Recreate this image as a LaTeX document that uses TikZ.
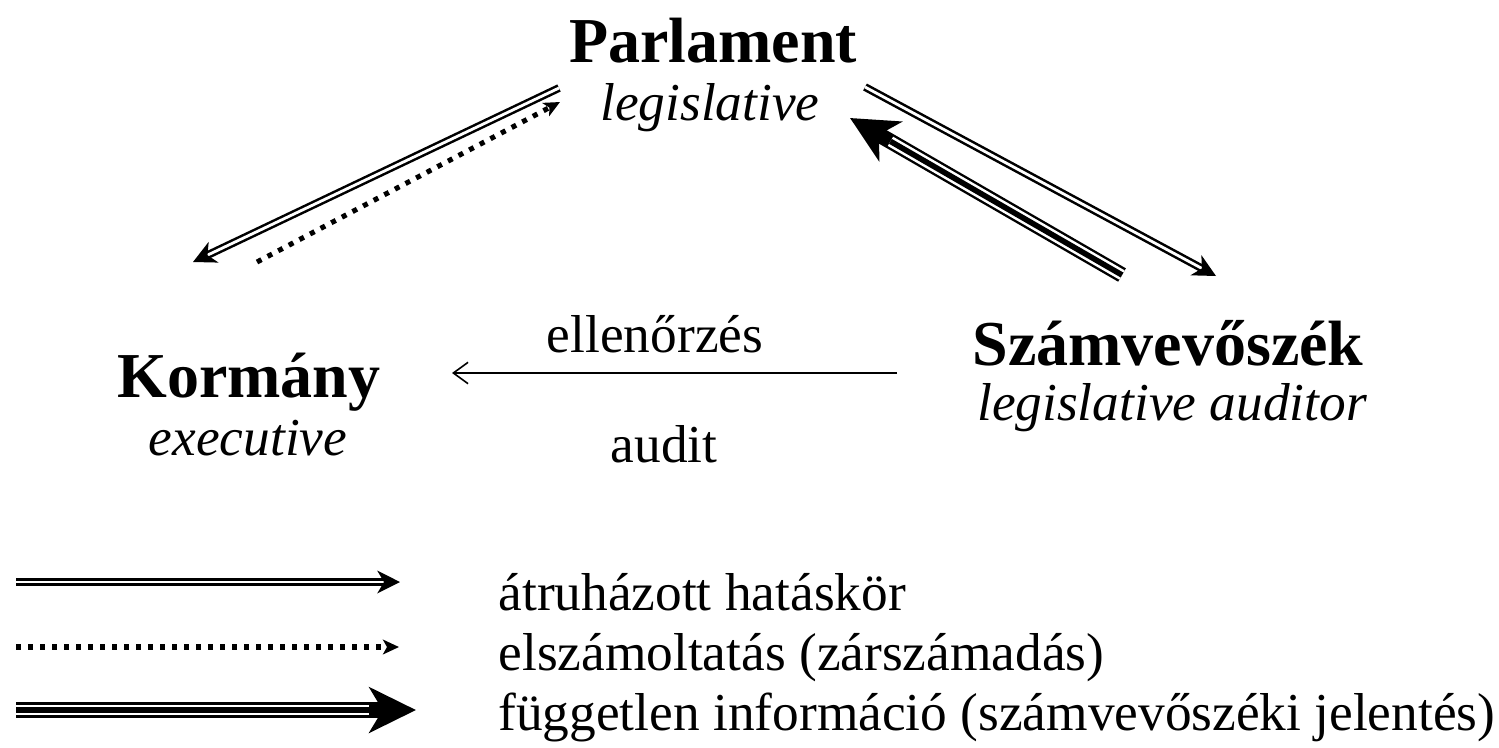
\documentclass[tikz,border=0pt]{standalone}
\usepackage{fontspec}
\setmainfont{Liberation Serif}
\usetikzlibrary{arrows.meta}

\tikzset{
	organ/.style={font=\fontsize{24}{28}\selectfont\bfseries, anchor=base, inner sep=0pt},
	role/.style={font=\fontsize{20}{24}\selectfont\itshape, anchor=base, inner sep=0pt},
	label/.style={font=\fontsize{20}{24}\selectfont, anchor=base, inner sep=0pt},
	legendtext/.style={font=\fontsize{20}{24}\selectfont, anchor=base west, inner sep=0pt},
	delegated/.style={line width=0.95pt, double, double distance=1.05pt,
		-{Stealth[length=8.5pt, width=8.5pt, inset=2.5pt]}},
	accounted/.style={line width=1.9pt, dash pattern=on 1.9pt off 2.6pt,
		-{Stealth[length=6pt, width=5.5pt, inset=1.5pt]}},
	informed/.style={line width=5.8pt, -{Stealth[length=17.5pt, width=17pt, inset=5pt]},
		postaction={draw, -, white, line width=4pt, shorten >=17.5pt},
		postaction={draw, -, black, line width=2.1pt, shorten >=17.5pt}},
	checkline/.style={line width=0.6pt, -{Straight Barb[length=5.5pt, width=8pt]}}
}

\begin{document}
\begin{tikzpicture}[x=0.375pt, y=-0.375pt]
	\useasboundingbox (0,0) rectangle (1499,747);
	
	% organs
	\node[organ] (parl) at (713,62) {Parlament};
	\node[role] (parlrole) at (710,120) {legislative};
	\node[organ] (korm) at (249,397) {Kormány};
	\node[role] (kormrole) at (248,455) {executive};
	\node[organ] (szam) at (1168,365) {Számvevőszék};
	\node[role] (szamrole) at (1172,420) {legislative auditor};
	
	% arrow ends
	\coordinate (pk-start) at (559,88); \coordinate (pk-end) at (193,262);
	\coordinate (kp-start) at (257,262); \coordinate (kp-end) at (560,102);
	\coordinate (ps-start) at (865,87); \coordinate (ps-end) at (1216,276);
	\coordinate (sp-start) at (1122,275); \coordinate (sp-end) at (850,118);
	\coordinate (sk-start) at (897,373); \coordinate (sk-end) at (452,373);
	
	\draw[delegated] (pk-start) -- (pk-end);
	\draw[accounted] (kp-start) -- (kp-end);
	\draw[delegated] (ps-start) -- (ps-end);
	\draw[informed] (sp-start) -- (sp-end);
	\draw[checkline] (sk-start) -- (sk-end);
	\node[label] (check) at (655,352) {ellenőrzés};
	\node[label] (audit) at (664,462) {audit};
	
	% legend
	\coordinate (l1) at (16,582); \coordinate (r1) at (400,582);
	\coordinate (l2) at (16,647); \coordinate (r2) at (399,647);
	\coordinate (l3) at (16,710); \coordinate (r3) at (416,710);
	\draw[delegated] (l1) -- (r1);
	\draw[accounted] (l2) -- (r2);
	\draw[informed] (l3) -- (r3);
	\node[legendtext] (leg1) at (498,610) {átruházott hatáskör};
	\node[legendtext] (leg2) at (498,670) {elszámoltatás (zárszámadás)};
	\node[legendtext] (leg3) at (498,730) {független információ (számvevőszéki jelentés)};
\end{tikzpicture}
\end{document}
